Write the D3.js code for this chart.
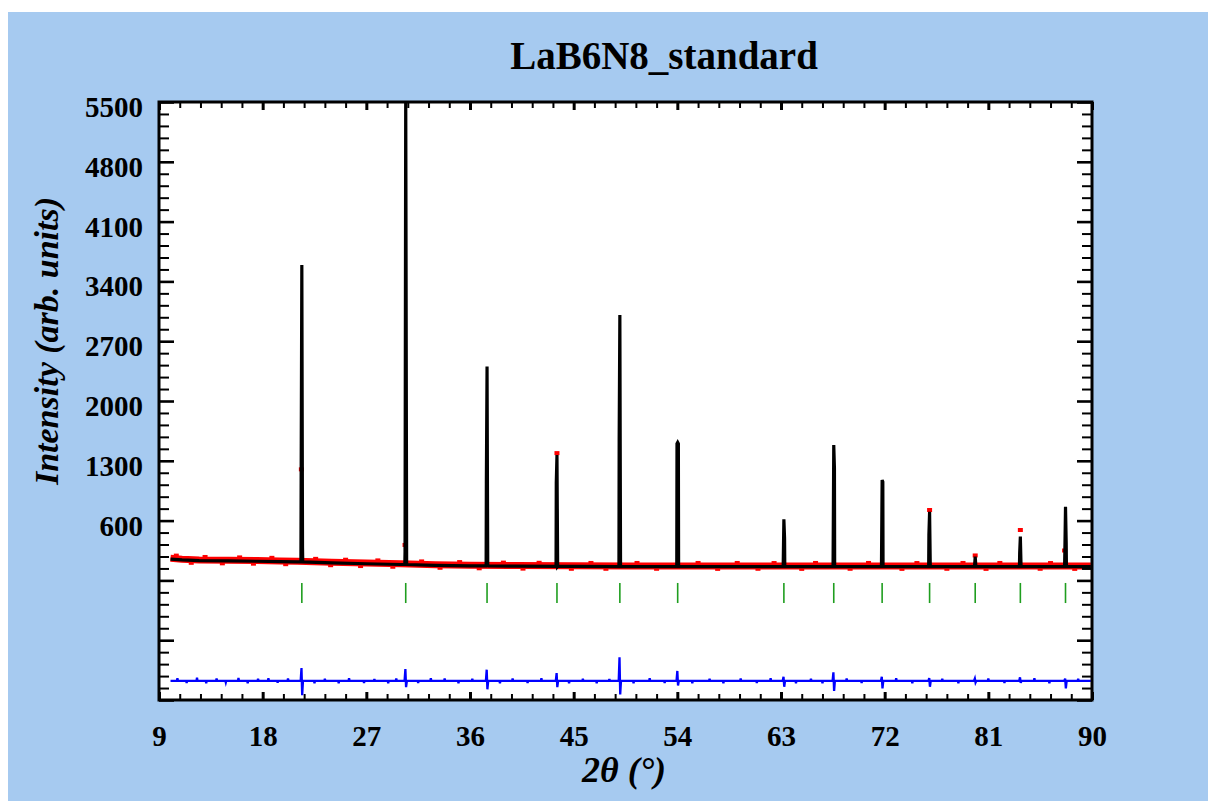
<!DOCTYPE html>
<html><head><meta charset="utf-8">
<script src="https://cdn.jsdelivr.net/npm/d3@7"></script>
<style>html,body{margin:0;padding:0;background:#fff;} svg{display:block;}</style>
</head><body>
<script>
// ---------- data ----------
const chartTitle = "LaB6N8_standard";
const xTitle = "2θ (°)";
const yTitle = "Intensity (arb. units)";
const xTickValues = [9, 18, 27, 36, 45, 54, 63, 72, 81, 90];
const yTickValues = [600, 1300, 2000, 2700, 3400, 4100, 4800, 5500];

// calculated background knots
const bgX = [10.0, 11.0, 12.5, 15.0, 17.5, 19.5, 21.0, 24.0, 27.0, 30.0, 33.0, 36.0, 40.0, 45.0, 50.0, 60.0, 70.0, 81.0, 89.9];
const bgY = [150, 140, 132, 128, 124, 119, 116, 105, 95, 86, 76, 70, 66, 64, 62, 62, 62, 62, 62];
// observed background band
const obsY = [160, 148, 140, 136, 132, 127, 124, 113, 103, 94, 84, 78, 74, 72, 70, 70, 70, 70, 70];

// Bragg peaks (2θ), calculated profile levels
const peakPos   = [21.40, 30.42, 37.48, 43.55, 49.01, 54.03, 63.25, 67.58, 71.78, 75.90, 79.86, 83.78, 87.70];
const peakBase  = [116, 86, 70, 65, 62, 62, 62, 62, 62, 62, 62, 62, 62];
const peakTop   = [3592, 5650, 2405, 1368, 3007, 1515, 615, 1485, 1075, 704, 178, 412, 763];
const peakLeft  = [1075, 236, 1037, 1040, 1544, 1500, 62, 62, 62, 431, 62, 217, 217];
const peakRight = [290, 1505, 62, 62, 62, 1500, 393, 1212, 1055, 62, 62, 62, 342];

// observed points visible at peak tips
const obsTipX = [21.36, 30.36, 43.55, 75.90, 79.86, 83.78, 87.62];
const obsTipY = [1200, 315, 1390, 724, 192, 490, 250];

// scattered observed points along the edges of the background band
const obsDotX = [10.5, 11.8, 13.0, 14.5, 16.0, 17.2, 18.8, 20.0, 22.6, 23.9, 25.2, 26.5, 28.0, 29.3, 31.8, 33.4, 35.1, 36.8, 38.9, 40.6, 42.0, 44.8, 46.5, 47.8, 50.5, 52.2, 55.8, 57.5, 59.2, 61.0, 62.4, 64.8, 66.0, 69.0, 70.6, 73.5, 74.8, 77.4, 78.8, 80.8, 82.0, 85.5, 86.4, 88.5];
const obsDotY = [196, 100, 180, 94, 175, 90, 170, 84, 158, 72, 148, 62, 140, 54, 128, 42, 120, 36, 114, 32, 112, 30, 110, 30, 110, 30, 110, 29, 110, 30, 109, 29, 110, 30, 110, 29, 109, 30, 110, 29, 110, 30, 109, 29];

// difference curve (obs - calc), drawn at an offset
const diffZero = -1275;
const diffUp   = [150, 137, 130, 90, 276, 115, 47, 98, 47, 30, 25, 40, 25];
const diffDown = [-170, -75, -100, -75, -160, -55, -70, -120, -90, -70, -20, -25, -90];
const diffNoiseX = [10.6, 11.4, 12.3, 13.1, 14.0, 14.8, 15.9, 16.7, 17.6, 18.5, 19.3, 20.2, 22.5, 23.4, 24.6, 25.5, 26.8, 27.7, 28.9, 29.6, 31.5, 32.6, 33.8, 35.0, 36.2, 38.6, 39.7, 41.0, 42.2, 44.6, 45.8, 47.0, 48.1, 50.2, 51.6, 52.9, 55.3, 56.8, 58.0, 59.5, 60.9, 62.1, 64.3, 65.6, 66.6, 68.7, 70.0, 73.0, 74.4, 77.0, 78.4, 81.0, 82.4, 85.0, 86.3, 88.8];
const diffNoiseY = [30, -25, 35, -30, 28, -20, 32, -28, 25, 30, -22, 28, -30, 25, -28, 30, -25, 22, -30, 28, -25, 30, 27, -28, 25, -30, 28, -25, 30, -28, 25, -30, 22, -28, 30, -25, -28, 25, -30, 28, -25, 30, -28, 25, -30, 28, -25, 30, -28, 25, -30, 28, -25, 30, -28, 25];

// ---------- drawing ----------
const W = 1208, H = 803;
const L = 159, R = 1092, T = 102, B = 700;
const serif = "'Liberation Serif','Times New Roman',Times,serif";

const svg = d3.select("body").append("svg").attr("width", W).attr("height", H);
svg.append("rect").attr("x", 8).attr("y", 12).attr("width", W - 8).attr("height", 789).attr("fill", "#A6CAF0");

const x = d3.scaleLinear().domain([9, 90]).range([L, R]);
const y = d3.scaleLinear().domain([-1500, 5500]).range([B, T]);

svg.append("rect").attr("x", L).attr("y", T).attr("width", R - L).attr("height", B - T).attr("fill", "#fff");
svg.append("clipPath").attr("id", "clip").append("rect").attr("x", L).attr("y", T).attr("width", R - L).attr("height", B - T);
const plot = svg.append("g").attr("clip-path", "url(#clip)");

const line = d3.line().x(d => x(d[0])).y(d => y(d[1]));

// observed band
const obsPts = bgX.map((v, i) => [v, obsY[i]]);
plot.append("path").attr("d", line(obsPts)).attr("fill", "none").attr("stroke", "#ff0000").attr("stroke-width", 7);
plot.selectAll(".odot").data(obsDotX.map((v, i) => [v, obsDotY[i]])).join("rect")
  .attr("x", d => x(d[0]) - 2.5).attr("y", d => y(d[1]) - 1.5).attr("width", 5).attr("height", 3).attr("fill", "#ff0000");
plot.selectAll(".otip").data(obsTipX.map((v, i) => [v, obsTipY[i]])).join("rect")
  .attr("x", d => x(d[0]) - 2.5).attr("y", d => y(d[1]) - 2).attr("width", 5).attr("height", 4).attr("fill", "#ff0000");

// calculated profile
const calcPts = bgX.map((v, i) => [v, bgY[i]]);
peakPos.forEach((p, i) => {
  calcPts.push([p - 0.08, peakBase[i]], [p - 0.06, peakLeft[i]], [p, peakTop[i]], [p + 0.06, peakRight[i]], [p + 0.08, peakBase[i]]);
});
calcPts.sort((a, b) => a[0] - b[0]);
plot.append("path").attr("d", line(calcPts)).attr("fill", "none").attr("stroke", "#000").attr("stroke-width", 3.2).attr("stroke-linejoin", "miter");

// Bragg position ticks
plot.selectAll(".bragg").data(peakPos).join("line")
  .attr("x1", d => x(d)).attr("x2", d => x(d)).attr("y1", y(-130)).attr("y2", y(-365))
  .attr("stroke", "#1f9e1f").attr("stroke-width", 1.6);

// difference curve
const diffPts = [[10.0, diffZero], [89.9, diffZero]];
peakPos.forEach((p, i) => {
  diffPts.push([p - 0.1, diffZero], [p - 0.03, diffZero + diffUp[i]], [p + 0.03, diffZero + diffDown[i]], [p + 0.1, diffZero]);
});
diffNoiseX.forEach((q, i) => {
  diffPts.push([q - 0.04, diffZero], [q, diffZero + diffNoiseY[i]], [q + 0.04, diffZero]);
});
diffPts.sort((a, b) => a[0] - b[0]);
plot.append("path").attr("d", line(diffPts)).attr("fill", "none").attr("stroke", "#0000ff").attr("stroke-width", 2.3);

// ---------- axes ----------
function styleAxis(g, w) {
  g.select(".domain").remove();
  g.selectAll(".tick line").attr("stroke", "#000").attr("stroke-width", w);
  g.selectAll(".tick text").attr("font-family", serif).attr("font-weight", "bold").attr("font-size", 29).attr("fill", "#000");
}
const yMajor = d3.range(-1500, 5501, 700);
const yMinor = d3.range(-1500, 5501, 140).filter(v => !yMajor.includes(v));
const xMajor = d3.range(9, 90.01, 9);
const xMinor = d3.range(9, 90.01, 1.8).filter(v => xMajor.every(m => Math.abs(m - v) > 1e-6));

svg.append("g").attr("transform", `translate(${L},0)`)
  .call(d3.axisLeft(y).tickValues(yMinor).tickSize(-10).tickFormat("")).call(g => styleAxis(g, 2));
const gl = svg.append("g").attr("transform", `translate(${L},0)`)
  .call(d3.axisLeft(y).tickValues(yMajor).tickSize(-15).tickPadding(16).tickFormat(v => yTickValues.includes(v) ? String(v) : ""))
  .call(g => styleAxis(g, 2.6));
gl.selectAll(".tick text").attr("dy", "0.5em");
svg.append("g").attr("transform", `translate(${R},0)`)
  .call(d3.axisRight(y).tickValues(yMinor).tickSize(-10).tickFormat("")).call(g => styleAxis(g, 2));
svg.append("g").attr("transform", `translate(${R},0)`)
  .call(d3.axisRight(y).tickValues(yMajor).tickSize(-15).tickFormat("")).call(g => styleAxis(g, 2.6));

svg.append("g").attr("transform", `translate(0,${B})`)
  .call(d3.axisBottom(x).tickValues(xMinor).tickSize(-6).tickFormat("")).call(g => styleAxis(g, 2));
svg.append("g").attr("transform", `translate(0,${B})`)
  .call(d3.axisBottom(x).tickValues(xMajor).tickSize(-8).tickPadding(25).tickFormat((v, i) => String(xTickValues[i])))
  .call(g => styleAxis(g, 3));
svg.append("g").attr("transform", `translate(0,${T})`)
  .call(d3.axisTop(x).tickValues(xMinor).tickSize(-6).tickFormat("")).call(g => styleAxis(g, 2));
svg.append("g").attr("transform", `translate(0,${T})`)
  .call(d3.axisTop(x).tickValues(xMajor).tickSize(-8).tickFormat("")).call(g => styleAxis(g, 3));

// frame
svg.append("rect").attr("x", L).attr("y", T).attr("width", R - L).attr("height", B - T)
  .attr("fill", "none").attr("stroke", "#000").attr("stroke-width", 3);

// titles
svg.append("text").attr("x", 664).attr("y", 69).attr("text-anchor", "middle")
  .attr("font-family", serif).attr("font-weight", "bold").attr("font-size", 39).text(chartTitle);
svg.append("text").attr("x", 624).attr("y", 782).attr("text-anchor", "middle")
  .attr("font-family", serif).attr("font-style", "italic").attr("font-weight", "bold").attr("font-size", 36).text(xTitle);
svg.append("text").attr("transform", "translate(58,341) rotate(-90)").attr("text-anchor", "middle")
  .attr("font-family", serif).attr("font-style", "italic").attr("font-weight", "bold").attr("font-size", 34).text(yTitle);
</script>
</body></html>
